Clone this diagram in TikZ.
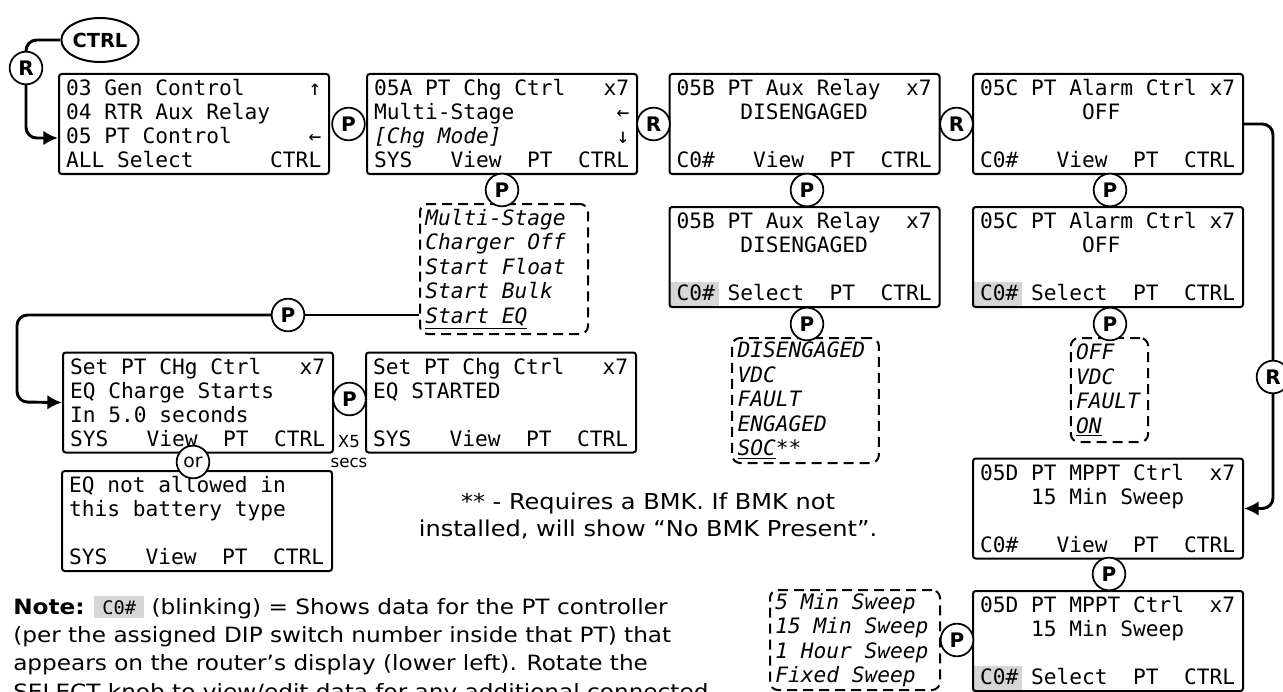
\documentclass[tikz,border=0pt]{standalone}
\usepackage{fontspec}
\setmainfont{DejaVu Sans}
\newfontfamily\lcd{DejaVu Sans Mono}
\newfontfamily\notefont{DejaVu Sans}[FakeStretch=1.1]
\usepackage{xcolor}
\definecolor{shade}{RGB}{214,214,214}
\usepackage{tikz}
\usetikzlibrary{
    shapes.geometric,
    arrows.meta,
    positioning,
    calc,
    backgrounds
}

\begin{document}
\begin{tikzpicture}[
        x=0.75pt, y=-0.75pt,
        >={Latex[length=11pt,width=11pt]},
        screen/.style={rectangle, rounded corners=2pt, draw, line width=1.5pt, minimum width=202.5pt, minimum height=75pt, text width=192pt, inner xsep=5pt, inner ysep=0pt, align=left, font=\lcd\fontsize{15.9}{18}\selectfont, execute at begin node={\spaceskip=0pt\xspaceskip=0pt\relax}},
        knob/.style={circle, draw, fill=white, line width=1.3pt, minimum size=24.5pt, inner sep=0pt, font=\bfseries\fontsize{15}{16}\selectfont},
        choices/.style 2 args={rectangle, rounded corners=6pt, draw, dash pattern=on 7.5pt off 4.5pt, line width=1.5pt, text width=#1, minimum height=#2, inner xsep=4pt, inner ysep=0pt, align=left, font=\lcd\itshape\fontsize{15.9}{18.4}\selectfont, execute at begin node={\spaceskip=0pt\xspaceskip=0pt\relax}},
        link/.style={line width=2.2pt, rounded corners=8pt},
        hilite/.style={fill=shade}
    ]
        \useasboundingbox (0,0) rectangle (1283,692);

        \node[ellipse, draw, line width=1.5pt, minimum width=55.5pt, minimum height=33pt, inner sep=0pt, font=\bfseries\fontsize{14.5}{16}\selectfont] (ctrl) at (100,40) {CTRL};

        \node[screen] (menu) at (194,124) {03 Gen Control~~~~~↑\\04 RTR Aux Relay\\05 PT Control~~~~~~←\\ALL Select~~~~~~CTRL};
        \node[screen] (chg) at (502,124) {05A PT Chg Ctrl~~~x7\\Multi-Stage~~~~~~~~←\\{\itshape [Chg Mode]}~~~~~~~~~↓\\SYS~~~View~~PT~~CTRL};
        \node[screen] (relay) at (804.5,124) {05B PT Aux Relay~~x7\\~~~~~DISENGAGED\\~\\C0\#~~~View~~PT~~CTRL};
        \node[screen] (alarm) at (1108,124) {05C PT Alarm Ctrl x7\\~~~~~~~~OFF\\~\\C0\#~~~View~~PT~~CTRL};

        \node[screen] (relaysel) at (804.5,257) {05B PT Aux Relay~~x7\\~~~~~DISENGAGED\\~\\C0\#~Select~~PT~~CTRL};
        \node[screen] (alarmsel) at (1108,257) {05C PT Alarm Ctrl x7\\~~~~~~~~OFF\\~\\C0\#~Select~~PT~~CTRL};

        \node[choices={118pt}{97.5pt}] (chglist) at (504,269) {Multi-Stage\\Charger Off\\Start Float\\Start Bulk\\\underline{Start EQ}};
        \node[choices={102pt}{93.75pt}] (relaylist) at (805.5,400.5) {DISENGAGED\\VDC\\FAULT\\ENGAGED\\\underline{SOC}**};
        \node[choices={50pt}{78pt}] (alarmlist) at (1109.5,390) {OFF\\VDC\\FAULT\\\underline{ON}};

        \node[screen] (eqset) at (198,402.5) {Set PT CHg Ctrl~~~x7\\EQ Charge Starts\\In 5.0 seconds\\SYS~~~View~~PT~~CTRL};
        \node[screen] (eqdone) at (501,402.5) {Set PT Chg Ctrl~~~x7\\EQ STARTED\\~\\SYS~~~View~~PT~~CTRL};
        \node[screen] (eqdeny) at (197,521) {EQ not allowed in\\this battery type\\~\\SYS~~~View~~PT~~CTRL};

        \node[screen] (mppt) at (1108,508.5) {05D PT MPPT Ctrl~~x7\\~~~~15 Min Sweep\\~\\C0\#~~~View~~PT~~CTRL};
        \node[screen] (mpptsel) at (1108,641) {05D PT MPPT Ctrl~~x7\\~~~~15 Min Sweep\\~\\C0\#~Select~~PT~~CTRL};
        \node[choices={119.5pt}{75pt}] (sweeplist) at (855,640) {5 Min Sweep\\15 Min Sweep\\1 Hour Sweep\\Fixed Sweep};

        \begin{scope}[on background layer]
            \fill[hilite] (relaysel.south west) rectangle ++(50,-26);
            \fill[hilite] (alarmsel.south west) rectangle ++(50,-26);
            \fill[hilite] (mpptsel.south west) rectangle ++(50,-26);
        \end{scope}

        \node[knob] (r1) at (26,68) {R};
        \node[knob] (p1) at (348.5,124) {P};
        \node[knob] (r2) at (653.5,124) {R};
        \node[knob] (r3) at (956.5,124) {R};
        \node[knob] (r4) at (1273,377) {R};
        \node[knob] (p2) at (502,190) {P};
        \node[knob] (p3) at (807,190) {P};
        \node[knob] (p4) at (1110,190) {P};
        \node[knob] (p5) at (807,324) {P};
        \node[knob] (p6) at (1110,324) {P};
        \node[knob] (peq) at (288,315) {P};
        \node[knob] (p7) at (349.5,399) {P};
        \node[knob, font=\fontsize{14}{16}\selectfont] (or) at (193,462) {or};
        \node[knob] (p8) at (1109,574) {P};
        \node[knob] (p9) at (957,640) {P};

        \node[font=\fontsize{12.5}{14}\selectfont] (xfive) at (349,442) {X5};
        \node[font=\fontsize{12.5}{14}\selectfont] (secs) at (349,463) {secs};

        \coordinate (bend) at (17,402);
        \draw[link] (ctrl.west) -| (r1.north);
        \draw[link, ->] (r1.south) |- ($(menu.west)+(0,14)$);
        \draw[link] (alarm.east) -| (r4.north);
        \draw[link, ->] (r4.south) |- (mppt.east);
        \draw[link] (chglist.west |- peq) -- (peq);
        \draw[link, ->] (peq.west) -| (bend) -- (eqset.west);

        \node[align=center, font=\notefont\fontsize{16.4}{20.25}\selectfont] (bmk) at (648,516) {** - Requires a BMK. If BMK not\\installed, will show “No BMK Present”.};

        \node[anchor=north west, align=left, inner sep=0pt, font=\notefont\fontsize{15.8}{21.3}\selectfont] (note) at (13,596) {\textbf{Note:} {\setlength\fboxsep{3pt}\colorbox{shade}{\hspace{3pt}\lcd\fontsize{14}{16}\selectfont C0\#\hspace{3pt}}} (blinking) = Shows data for the PT controller\\(per the assigned DIP switch number inside that PT) that\\appears on the router’s display (lower left). Rotate the\\SELECT knob to view/edit data for any additional connected};
    \end{tikzpicture}
\end{document}
